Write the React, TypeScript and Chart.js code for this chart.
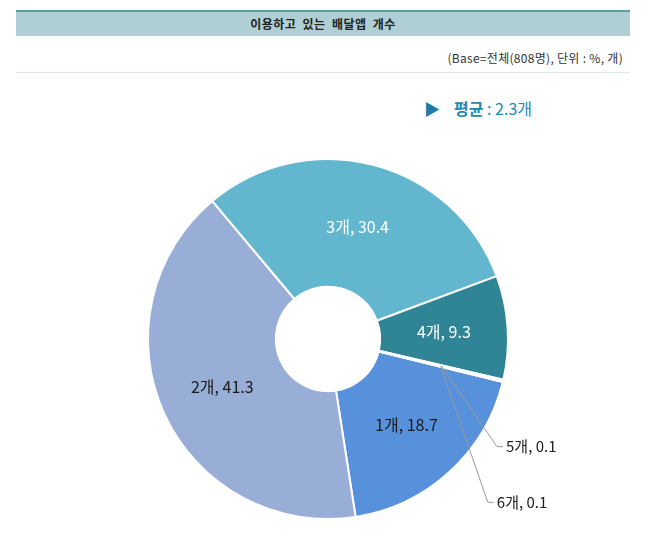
import { useEffect, useRef } from "react";
import { Chart, registerables } from "chart.js";

Chart.register(...registerables);

const categories = ["1개", "2개", "3개", "4개", "5개", "6개"];
const shares = [18.7, 41.3, 30.4, 9.3, 0.1, 0.1];
const sliceColors = ["#5791DC", "#98AED7", "#62B7CE", "#2F8595", "#A8A8A8", "#7F7F7F"];
const labelColors = ["#1a1a1a", "#1a1a1a", "#ffffff", "#ffffff", "#222222", "#222222"];
// tiny slices get a leader line; offsets of the elbow from the slice centre
const outsideSlices = [4, 5];
const leaderOffsets = [
  [56, 81],
  [47, 136],
];

const FONT = '"Noto Sans CJK KR", "Noto Sans", sans-serif';

const sliceLabels = {
  id: "sliceLabels",
  afterDatasetsDraw(chart: any) {
    const ctx = chart.ctx;
    const meta = chart.getDatasetMeta(0);
    ctx.save();
    meta.data.forEach((arc: any, i: number) => {
      const text = `${categories[i]}, ${shares[i].toFixed(1)}`;
      const { x, y } = arc.tooltipPosition(false);
      const k = outsideSlices.indexOf(i);
      if (k < 0) {
        ctx.font = `16px ${FONT}`;
        ctx.fillStyle = labelColors[i];
        ctx.textAlign = "center";
        ctx.textBaseline = "middle";
        ctx.fillText(text, x, y);
        return;
      }
      const ex = x + leaderOffsets[k][0];
      const ey = y + leaderOffsets[k][1];
      ctx.strokeStyle = "#9a9a9a";
      ctx.lineWidth = 1;
      ctx.beginPath();
      ctx.moveTo(x, y);
      ctx.lineTo(ex, ey);
      ctx.lineTo(ex + 6, ey);
      ctx.stroke();
      ctx.font = `15px ${FONT}`;
      ctx.fillStyle = labelColors[i];
      ctx.textAlign = "left";
      ctx.textBaseline = "middle";
      ctx.fillText(text, ex + 9, ey);
    });
    ctx.restore();
  },
};

export default function App() {
  const chartRef = useRef<HTMLCanvasElement>(null);
  const chartInstanceRef = useRef<Chart | null>(null);

  useEffect(() => {
    if (!chartRef.current) return;
    if (chartInstanceRef.current) chartInstanceRef.current.destroy();

    chartInstanceRef.current = new Chart(chartRef.current, {
      type: "doughnut",
      data: {
        labels: categories,
        datasets: [
          {
            data: shares,
            backgroundColor: sliceColors,
            borderColor: "#ffffff",
            borderWidth: 2,
          },
        ],
      },
      options: {
        responsive: true,
        maintainAspectRatio: false,
        animation: false,
        rotation: 103.8,
        cutout: "29%",
        layout: { padding: { left: 147, right: 136, top: 158, bottom: 28 } },
        plugins: {
          legend: { display: false },
          tooltip: { enabled: false },
        },
      },
      plugins: [sliceLabels],
    });

    return () => {
      if (chartInstanceRef.current) {
        chartInstanceRef.current.destroy();
        chartInstanceRef.current = null;
      }
    };
  }, []);

  return (
    <div
      style={{
        position: "absolute",
        left: 0,
        top: 0,
        width: 645,
        height: 548,
        background: "#ffffff",
        fontFamily: FONT,
      }}
    >
      <div
        style={{
          position: "absolute",
          left: 16,
          top: 10,
          width: 614,
          height: 24,
          borderTop: "2px solid #5C9FA0",
          background: "#AFCFD5",
          color: "#222",
          fontSize: 12,
          fontWeight: "bold",
          letterSpacing: 0.5,
          wordSpacing: 3,
          lineHeight: "24px",
          textAlign: "center",
        }}
      >
        이용하고 있는 배달앱 개수
      </div>
      <div
        style={{
          position: "absolute",
          right: 645 - 623,
          top: 49,
          fontSize: 12,
          letterSpacing: 0.3,
          lineHeight: "18px",
          color: "#333",
          whiteSpace: "nowrap",
        }}
      >
        (Base=전체(808명), 단위 : %, 개)
      </div>
      <div
        style={{
          position: "absolute",
          left: 16,
          top: 72,
          width: 614,
          height: 1,
          background: "#DCE8EA",
        }}
      />
      <div
        style={{
          position: "absolute",
          left: 424,
          top: 96,
          fontSize: 16,
          lineHeight: "24px",
          color: "#2388B0",
          whiteSpace: "nowrap",
        }}
      >
        <span style={{ color: "#1E7BA6", fontSize: 16, marginRight: 14 }}>▶</span>
        <span style={{ fontWeight: "bold" }}>평균</span> : 2.3개
      </div>
      <div style={{ position: "absolute", left: 0, top: 0, width: 645, height: 548 }}>
        <canvas ref={chartRef} />
      </div>
    </div>
  );
}
